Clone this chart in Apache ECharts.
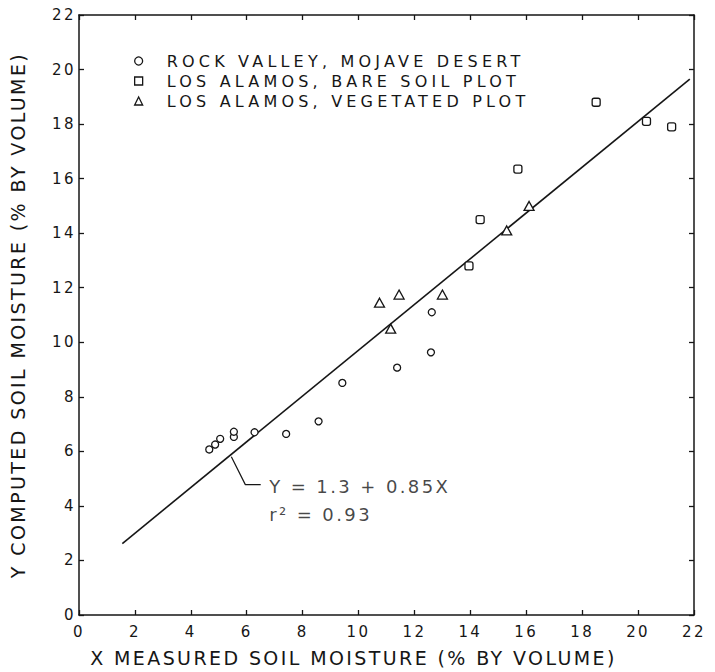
<!DOCTYPE html>
<html>
<head>
<meta charset="utf-8">
<script src="https://cdn.jsdelivr.net/npm/echarts@6/dist/echarts.min.js"></script>
<style>
  html, body { margin: 0; padding: 0; background: #fff; }
  #chart { width: 715px; height: 672px; }
  #chart text { letter-spacing: 2.4px; }
  #chart text[style*="16px"] { letter-spacing: 4.2px; }
</style>
</head>
<body>
<div id="chart"></div>
<script>
// ---- data ----
const seriesNames = ['ROCK VALLEY, MOJAVE DESERT', 'LOS ALAMOS, BARE SOIL PLOT', 'LOS ALAMOS, VEGETATED PLOT'];
const rockValley = [[4.66,6.07],[4.87,6.25],[5.05,6.46],[5.54,6.53],[5.54,6.72],[6.28,6.70],[7.41,6.64],[8.57,7.10],[9.42,8.51],[11.38,9.07],[12.59,9.63],[12.62,11.10]];
const bareSoil = [[13.95,12.8],[14.35,14.5],[15.7,16.35],[18.5,18.8],[20.3,18.1],[21.2,17.9]];
const vegetated = [[10.75,11.45],[11.15,10.5],[11.45,11.75],[13.0,11.75],[15.3,14.1],[16.1,15.0]];
const fitLine = [[1.55,2.62],[21.85,19.65]];
const leader = [[5.45,5.8],[5.95,4.78],[6.5,4.78]];
const fitText = 'Y = 1.3 + 0.85X\nr\u00B2 = 0.93';
const xTitle = 'X MEASURED SOIL MOISTURE (% BY VOLUME)';
const yTitle = 'Y COMPUTED SOIL MOISTURE (% BY VOLUME)';
const axisMin = 0, axisMax = 22, axisStep = 2;

const ink = '#161616';
const font = 'DejaVu Sans';
const chart = echarts.init(document.getElementById('chart'), null, { renderer: 'svg' });

function axisBase(extra) {
  return Object.assign({
    type: 'value', min: axisMin, max: axisMax, interval: axisStep,
    axisLine: { show: true, onZero: false, lineStyle: { color: ink, width: 1.5 } },
    axisTick: { show: true, inside: true, length: 5, lineStyle: { color: ink, width: 1.3 } },
    splitLine: { show: false },
    axisLabel: { show: false }
  }, extra);
}
const hollow = { color: '#fff', borderColor: ink, borderWidth: 1.3, opacity: 1 };

chart.setOption({
  backgroundColor: '#fff',
  animation: false,
  textStyle: { fontFamily: font, color: ink },
  grid: { left: 77, right: 21, top: 15, bottom: 56 },
  legend: {
    orient: 'vertical', left: 134, top: 53, padding: 0,
    itemWidth: 8, itemHeight: 8, itemGap: 4,
    data: [
      { name: seriesNames[0], icon: 'circle' },
      { name: seriesNames[1], icon: 'rect' },
      { name: seriesNames[2], icon: 'triangle' }
    ],
    itemStyle: hollow,
    textStyle: { fontFamily: font, fontSize: 16, color: ink, lineHeight: 16, padding: [0, 0, 0, 19] }
  },
  xAxis: [
    axisBase({
      position: 'bottom',
      axisLabel: { show: true, fontSize: 15, color: ink, margin: 9, fontFamily: font },
      name: xTitle, nameLocation: 'middle', nameGap: 33,
      nameTextStyle: { fontSize: 19, color: ink, fontFamily: font, padding: [0, 66, 0, 0] }
    }),
    axisBase({ position: 'top' })
  ],
  yAxis: [
    axisBase({
      position: 'left',
      axisLabel: { show: true, fontSize: 15, color: ink, margin: 3, fontFamily: font },
      name: yTitle, nameLocation: 'middle', nameGap: 52,
      nameTextStyle: { fontSize: 19, color: ink, fontFamily: font }
    }),
    axisBase({ position: 'right' })
  ],
  series: [
    { name: seriesNames[0], type: 'scatter', data: rockValley, symbol: 'circle', symbolSize: 7, itemStyle: hollow, z: 5 },
    { name: seriesNames[1], type: 'scatter', data: bareSoil, symbol: 'roundRect', symbolSize: 8, itemStyle: hollow, z: 5 },
    { name: seriesNames[2], type: 'scatter', data: vegetated, symbol: 'triangle', symbolSize: [10, 9], itemStyle: hollow, z: 5 },
    { name: 'fit', type: 'line', data: fitLine, showSymbol: false, silent: true,
      lineStyle: { color: ink, width: 1.6 }, z: 3 },
    { name: 'leader', type: 'line', data: leader, showSymbol: false, silent: true,
      lineStyle: { color: ink, width: 1.2 }, z: 3 },
    { name: 'fitLabel', type: 'scatter', silent: true, symbolSize: 1,
      itemStyle: { color: 'rgba(0,0,0,0)' },
      data: [{
        value: leader[leader.length - 1],
        label: {
          show: true, position: 'right', distance: 8, offset: [0, 16],
          formatter: fitText, fontSize: 18, lineHeight: 28, color: ink, fontFamily: font
        }
      }]
    }
  ]
});
</script>
</body>
</html>
